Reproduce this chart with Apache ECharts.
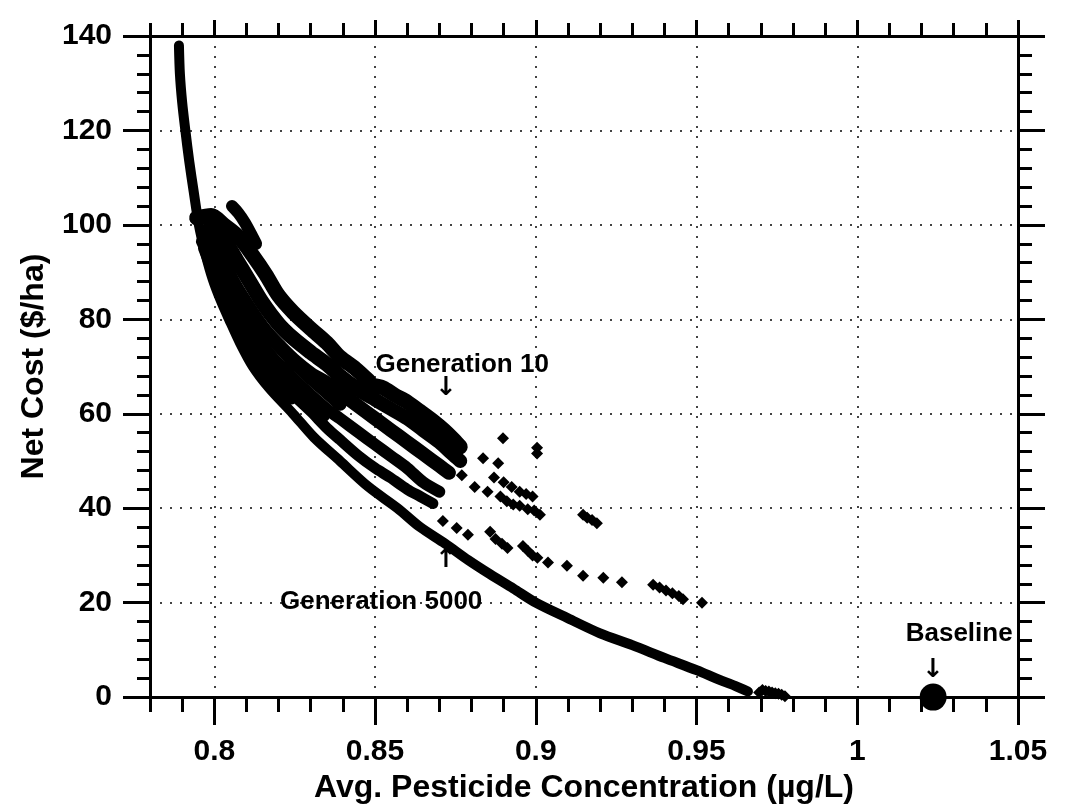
<!DOCTYPE html>
<html><head><meta charset="utf-8">
<script src="https://cdn.jsdelivr.net/npm/echarts@6/dist/echarts.min.js"></script>
<style>html,body{margin:0;padding:0;background:#fff}#c{width:1065px;height:809px}</style>
</head><body><div id="c"></div>
<script>
// ---- tick values ----
const xMajorTicks = [0.8, 0.85, 0.9, 0.95, 1, 1.05];
const xMinorTicks = [0.78,0.79,0.80,0.81,0.82,0.83,0.84,0.85,0.86,0.87,0.88,0.89,0.90,0.91,0.92,0.93,0.94,0.95,0.96,0.97,0.98,0.99,1.00,1.01,1.02,1.03,1.04,1.05];

// ---- data (x = avg concentration, y = net cost) ----
const gen5000 = [[0.7890,138],[0.7893,132],[0.7900,126],[0.7910,120],[0.7922,113.5],[0.7936,107],[0.7952,100],[0.7972,94],[0.7995,88.5],[0.8020,84],[0.8046,80],[0.8080,75],[0.8120,70],[0.8170,65.5],[0.8245,60],[0.8310,55],[0.8391,50],[0.8480,44.5],[0.8570,40],[0.8640,36],[0.8718,32.5],[0.8790,29],[0.8858,26],[0.8930,23],[0.9000,20],[0.9100,16.7],[0.9200,13.5],[0.9300,11],[0.9400,8.3],[0.9500,5.7],[0.9570,3.7],[0.9620,2.4],[0.9660,1.2]];
const gen5000Tail = [[0.9695,1.0],[0.9705,1.5],[0.9715,1.3],[0.9725,1.2],[0.9735,1.0],[0.9745,0.8],[0.9755,0.7],[0.9765,0.5],[0.9775,0.2]];
const front1b = [[0.7965,95],[0.8000,89],[0.8050,81.5],[0.8100,75],[0.8150,70],[0.8200,66],[0.8240,63]];
const front2 = [[0.7960,96.5],[0.8000,90.5],[0.8050,82.5],[0.8100,76],[0.8150,70.8],[0.8200,66.8],[0.8245,64],[0.8300,60.5],[0.8350,57],[0.8391,54.5],[0.8450,51],[0.8500,48.5],[0.8547,46.5],[0.8600,44],[0.8640,42.5],[0.8680,41]];
const front2b = [[0.7975,96.5],[0.8000,92],[0.8050,84],[0.8100,78],[0.8150,73],[0.8200,69],[0.8245,66],[0.8300,62.3],[0.8340,59.5]];
const front3 = [[0.7970,97.5],[0.8000,92.5],[0.8050,85],[0.8100,79],[0.8150,74.5],[0.8200,70.5],[0.8245,67.5],[0.8300,64],[0.8350,61],[0.8391,59],[0.8450,56],[0.8500,53.5],[0.8550,51],[0.8600,48.5],[0.8650,45.5],[0.8700,43.5]];
const front3b = [[0.7985,98.5],[0.8020,94],[0.8060,88],[0.8100,83.5],[0.8150,78.5],[0.8200,74.5],[0.8245,71],[0.8300,67.5],[0.8350,64.5],[0.8391,62]];
const front4 = [[0.7980,99],[0.8000,95],[0.8050,88.5],[0.8100,83],[0.8150,78],[0.8200,74.5],[0.8245,71.5],[0.8300,68.5],[0.8350,66.5],[0.8391,64.5],[0.8450,61.5],[0.8500,59],[0.8550,56.5],[0.8600,54],[0.8650,51.5],[0.8700,49],[0.8730,47.5]];
const front5 = [[0.7990,100.5],[0.8030,97],[0.8070,92.5],[0.8110,88],[0.8150,83.5],[0.8200,79],[0.8245,76],[0.8300,73],[0.8350,70.5],[0.8391,68],[0.8440,65.5],[0.8490,63.5]];
const front6 = [[0.7945,101.5],[0.7990,102],[0.8030,100],[0.8075,97.5],[0.8120,93.5],[0.8160,89.5],[0.8200,85],[0.8245,81.5],[0.8300,78],[0.8350,75],[0.8391,72],[0.8440,69.5],[0.8480,67]];
const finger = [[0.8055,104],[0.8075,102.5],[0.8095,100.5],[0.8115,98],[0.8130,96]];
const gen10a = [[0.8490,66],[0.8525,65.5],[0.8560,64],[0.8600,62.5],[0.8640,60.5],[0.8680,58.5],[0.8715,56.5],[0.8745,54.5],[0.8765,53]];
const gen10b = [[0.8500,63],[0.8550,61],[0.8600,59],[0.8650,56.5],[0.8700,54],[0.8740,51.5],[0.8765,50]];
const sparsePoints = [
 [0.8711,37.3],[0.8754,35.8],[0.8789,34.4],[0.8858,35],[0.8875,33.5],[0.8895,32.5],[0.8912,31.6],[0.8960,32],[0.8975,31],[0.8990,30],[0.9005,29.5],[0.9038,28.5],[0.9097,27.8],[0.9147,25.7],[0.9210,25.3],[0.9268,24.3],[0.9365,23.8],[0.9385,23.2],[0.9405,22.6],[0.9425,22],[0.9445,21.4],[0.9458,20.7],[0.9517,20],
 [0.8770,47],[0.8836,50.6],[0.8883,49.5],[0.8898,54.8],[0.9004,52.8],[0.9004,51.6],
 [0.8810,44.5],[0.8850,43.5],[0.8890,42.5],[0.8910,41.5],[0.8930,40.8],[0.8950,40.5],[0.8975,39.8],[0.8995,39.5],[0.9013,38.6],
 [0.8870,46.5],[0.8900,45.5],[0.8925,44.5],[0.8950,43.5],[0.8970,43],[0.8990,42.5],
 [0.9147,38.6],[0.9160,38],[0.9175,37.5],[0.9190,36.8]
];
const baseline = [[1.0236,0]];

// ---- annotations (text anchored in data coordinates) ----
const annotationTexts = [
 {name:'Generation 10', value:[0.8771,70.4]},
 {name:'Generation 5000', value:[0.8519,20.2]},
 {name:'Baseline', value:[1.0317,13.3]}
];
const annotationArrows = [
 {name:'↓', value:[0.8721,65.4]},
 {name:'↑', value:[0.8721,28.9]},
 {name:'↓', value:[1.0236,5.7]}
];

const FONT = '"Liberation Sans", Arial, sans-serif';
const BLACK = '#000';

function band(data, w) {
  return {type:'line', data:data, showSymbol:false, symbol:'none', smooth:0.3, silent:true, z:3,
    lineStyle:{color:BLACK, width:w, cap:'round', join:'round', opacity:1}};
}

const chart = echarts.init(document.getElementById('c'), null, {renderer:'canvas'});
chart.setOption({
  animation:false,
  backgroundColor:'#fff',
  grid:{left:150, right:47, top:36, bottom:109, containLabel:false},
  xAxis:[
    {type:'value', position:'bottom', min:0.78, max:1.05,
     axisLine:{show:true, onZero:false, lineStyle:{color:BLACK, width:3}},
     axisTick:{show:true, customValues:xMajorTicks, length:28, lineStyle:{color:BLACK, width:3}},
     axisLabel:{show:true, customValues:xMajorTicks, margin:40, fontSize:30, fontWeight:'bold', color:BLACK, fontFamily:FONT},
     splitLine:{show:true, lineStyle:{type:[2,8], color:'#444', width:2}},
     name:'Avg. Pesticide Concentration (µg/L)', nameLocation:'middle', nameGap:73,
     nameTextStyle:{fontSize:32, fontWeight:'bold', color:BLACK, fontFamily:FONT}},
    {type:'value', position:'bottom', min:0.78, max:1.05,
     axisLine:{show:false, onZero:false},
     axisTick:{show:true, customValues:xMinorTicks, length:15, lineStyle:{color:BLACK, width:3}},
     axisLabel:{show:false}, splitLine:{show:false}},
    {type:'value', position:'top', min:0.78, max:1.05,
     axisLine:{show:true, onZero:false, lineStyle:{color:BLACK, width:3}},
     axisTick:{show:true, customValues:xMajorTicks, length:16, lineStyle:{color:BLACK, width:3}},
     axisLabel:{show:false}, splitLine:{show:false}},
    {type:'value', position:'top', min:0.78, max:1.05,
     axisLine:{show:false, onZero:false},
     axisTick:{show:true, customValues:xMinorTicks, length:13, lineStyle:{color:BLACK, width:3}},
     axisLabel:{show:false}, splitLine:{show:false}}
  ],
  yAxis:[
    {type:'value', position:'left', min:0, max:140, interval:20,
     axisLine:{show:true, onZero:false, lineStyle:{color:BLACK, width:3}},
     axisTick:{show:true, length:27, lineStyle:{color:BLACK, width:3}},
     minorTick:{show:true, splitNumber:5, length:13, lineStyle:{color:BLACK, width:3}},
     axisLabel:{margin:38, fontSize:30, fontWeight:'bold', color:BLACK, fontFamily:FONT},
     splitLine:{show:true, lineStyle:{type:[2,8], color:'#444', width:2}},
     name:'Net Cost ($/ha)', nameLocation:'middle', nameGap:100,
     nameTextStyle:{fontSize:32, fontWeight:'bold', color:BLACK, fontFamily:FONT}},
    {type:'value', position:'right', min:0, max:140, interval:20,
     axisLine:{show:true, onZero:false, lineStyle:{color:BLACK, width:3}},
     axisTick:{show:true, length:27, lineStyle:{color:BLACK, width:3}},
     minorTick:{show:true, splitNumber:5, length:14, lineStyle:{color:BLACK, width:3}},
     axisLabel:{show:false}, splitLine:{show:false}}
  ],
  series:[
    band(front6, 15), band(finger, 12), band(front5, 15), band(front4, 14), band(front3b, 13), band(front3, 12),
    band(front2b, 12), band(front2, 11), band(front1b, 10), band(gen10a, 15), band(gen10b, 14), band(gen5000, 10),
    {type:'scatter', data:gen5000Tail, symbol:'diamond', symbolSize:12, itemStyle:{color:BLACK, opacity:1}, silent:true, z:3},
    {type:'scatter', data:sparsePoints, symbol:'diamond', symbolSize:12, itemStyle:{color:BLACK, opacity:1}, silent:true, z:3},
    {type:'scatter', data:baseline, symbol:'circle', symbolSize:27, itemStyle:{color:BLACK, opacity:1}, silent:true, z:4},
    {type:'scatter', data:annotationTexts, symbolSize:1, itemStyle:{color:'rgba(0,0,0,0)', opacity:1}, silent:true, z:5,
     label:{show:true, position:'inside', formatter:'{b}', fontSize:26, fontWeight:'bold', color:BLACK, opacity:1, fontFamily:FONT}},
    {type:'scatter', data:annotationArrows, symbolSize:1, itemStyle:{color:'rgba(0,0,0,0)', opacity:1}, silent:true, z:5,
     label:{show:true, position:'inside', formatter:'{b}', fontSize:26, fontWeight:'bold', color:BLACK, opacity:1, fontFamily:'"DejaVu Sans", sans-serif'}}
  ]
});
</script>
</body></html>
